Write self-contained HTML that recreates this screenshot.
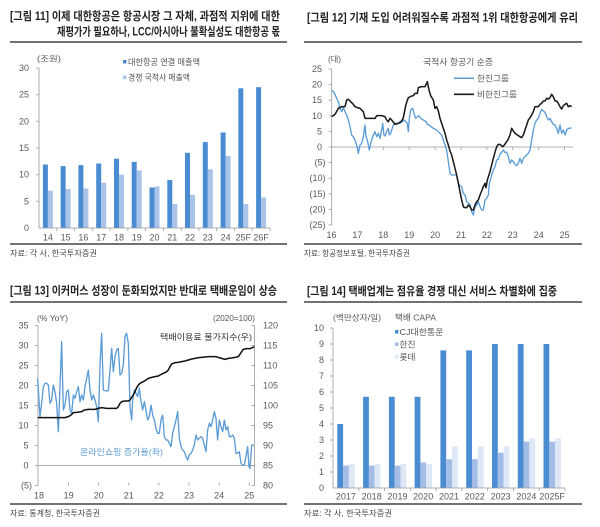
<!DOCTYPE html>
<html><head><meta charset="utf-8">
<style>
html,body{margin:0;padding:0;background:#fff;}
svg{display:block;font-family:"Liberation Sans","Noto Sans CJK KR",sans-serif;}
</style></head><body>
<svg width="600" height="527" viewBox="0 0 600 527" xmlns="http://www.w3.org/2000/svg">
<rect width="600" height="527" fill="#fff"/>

<!-- ================= CHART 11 ================= -->
<text x="10" y="20" font-size="11.5" font-weight="bold" fill="#222" textLength="270" lengthAdjust="spacingAndGlyphs">[그림 11] 이제 대한항공은 항공시장 그 자체, 과점적 지위에 대한</text>
<text x="57" y="35.5" font-size="11.5" font-weight="bold" fill="#222" textLength="223" lengthAdjust="spacingAndGlyphs">재평가가 필요하나, LCC/아시아나 불확실성도 대한항공 몫</text>
<line x1="10" y1="42" x2="287" y2="42" stroke="#444" stroke-width="1.4"/>
<line x1="10" y1="244" x2="287" y2="244" stroke="#444" stroke-width="1.4"/>
<text x="10" y="256" font-size="8" fill="#444" textLength="87" lengthAdjust="spacingAndGlyphs">자료: 각 사, 한국투자증권</text>

<text x="37" y="61.5" font-size="8" fill="#555" textLength="24" lengthAdjust="spacingAndGlyphs">(조원)</text>
<rect x="123" y="60" width="3.5" height="3.5" fill="#4A8CD2"/>
<text x="128" y="65" font-size="8.5" fill="#555" textLength="72" lengthAdjust="spacingAndGlyphs">대한항공 연결 매출액</text>
<rect x="123" y="75.5" width="3.5" height="3.5" fill="#A9C3E9"/>
<text x="128" y="80.5" font-size="8.5" fill="#555" textLength="62" lengthAdjust="spacingAndGlyphs">경쟁 국적사 매출액</text>

<g font-size="9" fill="#595959" text-anchor="end">
<text x="29" y="71">30</text><text x="29" y="97.7">25</text><text x="29" y="124.3">20</text>
<text x="29" y="151">15</text><text x="29" y="177.7">10</text><text x="29" y="204.3">5</text><text x="29" y="231">0</text>
</g>
<g stroke="#999" stroke-width="0.8">
<line x1="39" y1="68" x2="39" y2="228"/>
<line x1="36" y1="68" x2="39" y2="68"/><line x1="36" y1="94.7" x2="39" y2="94.7"/><line x1="36" y1="121.3" x2="39" y2="121.3"/>
<line x1="36" y1="148" x2="39" y2="148"/><line x1="36" y1="174.7" x2="39" y2="174.7"/><line x1="36" y1="201.3" x2="39" y2="201.3"/>
</g>
<!-- bars -->
<g fill="#4A8CD2">
<rect x="42.9" y="164.5" width="5" height="63.5"/>
<rect x="60.65" y="166.1" width="5" height="61.9"/>
<rect x="78.4" y="165.1" width="5" height="62.9"/>
<rect x="96.2" y="163.5" width="5" height="64.5"/>
<rect x="114" y="158.7" width="5" height="69.3"/>
<rect x="131.7" y="161.9" width="5" height="66.1"/>
<rect x="149.5" y="187.5" width="5" height="40.5"/>
<rect x="167.3" y="180" width="5" height="48"/>
<rect x="185" y="152.8" width="5" height="75.2"/>
<rect x="202.8" y="142.1" width="5" height="85.9"/>
<rect x="220.6" y="132.5" width="5" height="95.5"/>
<rect x="238.3" y="88.3" width="5" height="139.7"/>
<rect x="256.1" y="87.2" width="5" height="140.8"/>
</g>
<g fill="#A9C3E9">
<rect x="47.9" y="190.7" width="5" height="37.3"/>
<rect x="65.65" y="189.1" width="5" height="38.9"/>
<rect x="83.4" y="188.5" width="5" height="39.5"/>
<rect x="101.2" y="182.7" width="5" height="45.3"/>
<rect x="119" y="174.7" width="5" height="53.3"/>
<rect x="136.7" y="170.4" width="5" height="57.6"/>
<rect x="154.5" y="186.4" width="5" height="41.6"/>
<rect x="172.3" y="204" width="5" height="24"/>
<rect x="190" y="194.9" width="5" height="33.1"/>
<rect x="207.8" y="169.3" width="5" height="58.7"/>
<rect x="225.6" y="156" width="5" height="72"/>
<rect x="243.3" y="204" width="5" height="24"/>
<rect x="261.1" y="197.6" width="5" height="30.4"/>
</g>
<g stroke="#999" stroke-width="0.8">
<line x1="39" y1="228" x2="270" y2="228"/>
<line x1="56.8" y1="228" x2="56.8" y2="231"/><line x1="74.5" y1="228" x2="74.5" y2="231"/><line x1="92.3" y1="228" x2="92.3" y2="231"/>
<line x1="110.1" y1="228" x2="110.1" y2="231"/><line x1="127.9" y1="228" x2="127.9" y2="231"/><line x1="145.6" y1="228" x2="145.6" y2="231"/>
<line x1="163.4" y1="228" x2="163.4" y2="231"/><line x1="181.2" y1="228" x2="181.2" y2="231"/><line x1="198.9" y1="228" x2="198.9" y2="231"/>
<line x1="216.7" y1="228" x2="216.7" y2="231"/><line x1="234.5" y1="228" x2="234.5" y2="231"/><line x1="252.2" y1="228" x2="252.2" y2="231"/>
<line x1="270" y1="228" x2="270" y2="231"/>
</g>
<g font-size="9" fill="#595959" text-anchor="middle">
<text x="47.9" y="240.5">14</text><text x="65.65" y="240.5">15</text><text x="83.4" y="240.5">16</text><text x="101.2" y="240.5">17</text>
<text x="119" y="240.5">18</text><text x="136.7" y="240.5">19</text><text x="154.5" y="240.5">20</text><text x="172.3" y="240.5">21</text>
<text x="190" y="240.5">22</text><text x="207.8" y="240.5">23</text><text x="225.6" y="240.5">24</text><text x="243.3" y="240.5">25F</text>
<text x="261.1" y="240.5">26F</text>
</g>

<!-- ================= CHART 12 ================= -->
<text x="307" y="21.5" font-size="11.5" font-weight="bold" fill="#222" textLength="271" lengthAdjust="spacingAndGlyphs">[그림 12] 기재 도입 어려워질수록 과점적 1위 대한항공에게 유리</text>
<line x1="304" y1="42" x2="582" y2="42" stroke="#444" stroke-width="1.4"/>
<line x1="304" y1="244" x2="582" y2="244" stroke="#444" stroke-width="1.4"/>
<text x="304" y="256" font-size="8" fill="#444" textLength="106" lengthAdjust="spacingAndGlyphs">자료: 항공정보포털, 한국투자증권</text>

<text x="328" y="62" font-size="8" fill="#555" textLength="13" lengthAdjust="spacingAndGlyphs">(대)</text>
<text x="458" y="65" font-size="8.5" fill="#555" text-anchor="middle" textLength="70" lengthAdjust="spacingAndGlyphs">국적사 항공기 순증</text>
<line x1="454" y1="78.3" x2="474" y2="78.3" stroke="#5B9BD5" stroke-width="1.5"/>
<text x="477" y="81.5" font-size="8.5" fill="#555" textLength="32" lengthAdjust="spacingAndGlyphs">한진그룹</text>
<line x1="454" y1="94.3" x2="474" y2="94.3" stroke="#1a1a1a" stroke-width="1.6"/>
<text x="477" y="97.5" font-size="8.5" fill="#555" textLength="40" lengthAdjust="spacingAndGlyphs">비한진그룹</text>

<g font-size="9" fill="#595959" text-anchor="end">
<text x="322" y="72">25</text><text x="322" y="87.6">20</text><text x="322" y="103.2">15</text><text x="322" y="118.8">10</text>
<text x="322" y="134.4">5</text><text x="322" y="150">0</text>
<text x="325.5" y="165.6">(5)</text><text x="325.5" y="181.2">(10)</text><text x="325.5" y="196.8">(15)</text>
<text x="325.5" y="212.4">(20)</text><text x="325.5" y="228">(25)</text>
</g>
<g stroke="#999" stroke-width="0.8">
<line x1="331.7" y1="69" x2="331.7" y2="225"/>
<line x1="328.7" y1="69" x2="331.7" y2="69"/><line x1="328.7" y1="84.6" x2="331.7" y2="84.6"/><line x1="328.7" y1="100.2" x2="331.7" y2="100.2"/>
<line x1="328.7" y1="115.8" x2="331.7" y2="115.8"/><line x1="328.7" y1="131.4" x2="331.7" y2="131.4"/><line x1="328.7" y1="147" x2="331.7" y2="147"/>
<line x1="328.7" y1="162.6" x2="331.7" y2="162.6"/><line x1="328.7" y1="178.2" x2="331.7" y2="178.2"/><line x1="328.7" y1="193.8" x2="331.7" y2="193.8"/>
<line x1="328.7" y1="209.4" x2="331.7" y2="209.4"/><line x1="328.7" y1="225" x2="331.7" y2="225"/>
<line x1="331.7" y1="147" x2="573" y2="147"/>
<line x1="357.4" y1="147" x2="357.4" y2="150"/><line x1="383.3" y1="147" x2="383.3" y2="150"/><line x1="409.2" y1="147" x2="409.2" y2="150"/>
<line x1="435.1" y1="147" x2="435.1" y2="150"/><line x1="461" y1="147" x2="461" y2="150"/><line x1="486.9" y1="147" x2="486.9" y2="150"/>
<line x1="512.8" y1="147" x2="512.8" y2="150"/><line x1="538.7" y1="147" x2="538.7" y2="150"/><line x1="564.6" y1="147" x2="564.6" y2="150"/>
</g>
<g font-size="9" fill="#595959" text-anchor="middle">
<text x="331.5" y="238">16</text><text x="357.4" y="238">17</text><text x="383.3" y="238">18</text><text x="409.2" y="238">19</text>
<text x="435.1" y="238">20</text><text x="461" y="238">21</text><text x="486.9" y="238">22</text><text x="512.8" y="238">23</text>
<text x="538.7" y="238">24</text><text x="564.6" y="238">25</text>
</g>
<g transform="translate(330,65) scale(0.33333)" fill="none" stroke-linejoin="round">
<polyline stroke="#5B9BD5" stroke-width="4" points="5,75 12,82 20,100 25,110 30,130 35,140 40,128 45,140 50,150 55,165 60,185 65,210 70,215 75,225 80,240 85,265 90,240 95,235 100,215 105,180 108,215 112,225 118,255 122,235 125,225 130,210 135,200 140,215 145,205 150,220 155,195 158,175 162,210 165,213 170,200 175,190 178,210 182,205 185,195 190,180 195,175 200,175 210,175 215,172 222,165 228,170 232,175 235,200 238,160 242,135 248,130 252,145 257,160 262,155 267,152 272,160 280,165 288,170 292,178 298,180 303,185 310,190 320,195 325,200 330,205 335,210 340,225 345,240 350,255 355,290 360,325 365,330 370,330 375,330 380,330 385,355 390,362 395,365 400,385 405,390 410,410 415,415 420,418 425,440 430,450 435,425 440,420 445,410 450,425 455,435 460,435 465,405 470,400 475,390 478,355 485,330 490,315 495,305 500,285 505,283 510,268 515,262 520,255 525,262 530,262 535,275 540,295 545,285 550,290 555,298 560,302 565,295 570,280 575,295 580,280 585,275 590,270 595,265 600,255 605,225 610,195 615,175 620,165 625,160 630,145 635,133 640,138 645,142 650,155 655,165 660,160 665,170 670,178 675,180 680,190 685,205 690,180 695,205 700,195 705,210 710,195 715,190 720,190 725,188"/>
<polyline stroke="#1a1a1a" stroke-width="4.6" points="5,155 15,148 25,130 35,125 45,125 50,105 55,103 62,110 70,118 75,125 80,127 90,130 100,140 105,160 120,160 135,160 140,152 155,152 165,155 170,165 175,170 180,160 185,165 195,178 205,175 215,168 220,158 228,118 235,98 245,93 250,92 255,85 262,85 265,68 275,65 285,65 292,50 297,75 302,92 310,105 315,130 320,125 325,138 330,160 335,175 340,190 345,205 350,225 355,240 360,258 365,270 370,290 375,310 380,330 385,355 390,380 395,405 400,425 405,428 410,428 415,420 420,425 425,435 430,435 435,420 440,410 445,405 450,390 455,378 460,365 465,355 468,368 472,345 480,320 485,300 490,280 495,262 500,245 505,238 510,238 518,245 523,240 530,230 535,222 540,210 545,190 550,198 555,205 565,212 575,218 580,210 585,195 590,180 595,165 600,158 605,150 610,140 615,125 625,125 630,118 635,115 640,108 645,108 650,100 655,102 660,98 665,88 670,95 675,108 680,108 685,115 690,125 695,132 700,122 705,118 710,115 715,125 720,122 725,125"/>
</g>

<!-- ================= CHART 13 ================= -->
<text x="10" y="294.5" font-size="11.5" font-weight="bold" fill="#222" textLength="267" lengthAdjust="spacingAndGlyphs">[그림 13] 이커머스 성장이 둔화되었지만 반대로 택배운임이 상승</text>
<line x1="10" y1="302" x2="287" y2="302" stroke="#444" stroke-width="1.4"/>
<line x1="10" y1="504" x2="287" y2="504" stroke="#444" stroke-width="1.4"/>
<text x="10" y="516" font-size="8" fill="#444" textLength="90" lengthAdjust="spacingAndGlyphs">자료: 통계청, 한국투자증권</text>

<text x="37" y="321" font-size="8" fill="#555" textLength="31" lengthAdjust="spacingAndGlyphs">(% YoY)</text>
<text x="255" y="321" font-size="8" fill="#555" text-anchor="end" textLength="42" lengthAdjust="spacingAndGlyphs">(2020=100)</text>
<text x="160" y="340" font-size="8.5" fill="#333" textLength="92" lengthAdjust="spacingAndGlyphs">택배이용료 물가지수(우)</text>
<text x="80" y="455" font-size="8.5" fill="#5B9BD5" textLength="83" lengthAdjust="spacingAndGlyphs">온라인쇼핑 증가율(좌)</text>

<g font-size="9" fill="#595959" text-anchor="end">
<text x="28.5" y="328.5">35</text><text x="28.5" y="348.5">30</text><text x="28.5" y="368.5">25</text><text x="28.5" y="388.5">20</text>
<text x="28.5" y="408.5">15</text><text x="28.5" y="428.5">10</text><text x="28.5" y="448.5">5</text><text x="28.5" y="468.5">0</text>
<text x="32" y="488.5">(5)</text>
</g>
<g font-size="9" fill="#595959">
<text x="263" y="328.5">120</text><text x="263" y="348.5">115</text><text x="263" y="368.5">110</text><text x="263" y="388.5">105</text>
<text x="263" y="408.5">100</text><text x="263" y="428.5">95</text><text x="263" y="448.5">90</text><text x="263" y="468.5">85</text>
<text x="263" y="488.5">80</text>
</g>
<g stroke="#999" stroke-width="0.8">
<line x1="38" y1="325.5" x2="38" y2="485.5"/>
<line x1="254.5" y1="325.5" x2="254.5" y2="485.5"/>
<line x1="35" y1="325.5" x2="38" y2="325.5"/><line x1="35" y1="345.5" x2="38" y2="345.5"/><line x1="35" y1="365.5" x2="38" y2="365.5"/>
<line x1="35" y1="385.5" x2="38" y2="385.5"/><line x1="35" y1="405.5" x2="38" y2="405.5"/><line x1="35" y1="425.5" x2="38" y2="425.5"/>
<line x1="35" y1="445.5" x2="38" y2="445.5"/><line x1="35" y1="465.5" x2="38" y2="465.5"/><line x1="35" y1="485.5" x2="38" y2="485.5"/>
<line x1="251.5" y1="325.5" x2="254.5" y2="325.5"/><line x1="251.5" y1="345.5" x2="254.5" y2="345.5"/><line x1="251.5" y1="365.5" x2="254.5" y2="365.5"/>
<line x1="251.5" y1="385.5" x2="254.5" y2="385.5"/><line x1="251.5" y1="405.5" x2="254.5" y2="405.5"/><line x1="251.5" y1="425.5" x2="254.5" y2="425.5"/>
<line x1="251.5" y1="445.5" x2="254.5" y2="445.5"/><line x1="251.5" y1="465.5" x2="254.5" y2="465.5"/><line x1="251.5" y1="485.5" x2="254.5" y2="485.5"/>
<line x1="38" y1="465.5" x2="254.5" y2="465.5"/>
<line x1="68.6" y1="482.5" x2="68.6" y2="485.5"/><line x1="98.7" y1="482.5" x2="98.7" y2="485.5"/><line x1="128.8" y1="482.5" x2="128.8" y2="485.5"/>
<line x1="158.9" y1="482.5" x2="158.9" y2="485.5"/><line x1="189" y1="482.5" x2="189" y2="485.5"/><line x1="219.1" y1="482.5" x2="219.1" y2="485.5"/>
<line x1="249.2" y1="482.5" x2="249.2" y2="485.5"/>
</g>
<g font-size="9" fill="#595959" text-anchor="middle">
<text x="39" y="498.5">18</text><text x="68.6" y="498.5">19</text><text x="98.7" y="498.5">20</text><text x="128.8" y="498.5">21</text>
<text x="158.9" y="498.5">22</text><text x="189" y="498.5">23</text><text x="219.1" y="498.5">24</text><text x="249.2" y="498.5">25</text>
</g>
<g transform="translate(35,320) scale(0.33333)" fill="none" stroke-linejoin="round">
<polyline stroke="#5B9BD5" stroke-width="4" points="8,175 15,290 20,250 25,200 30,190 35,190 40,195 45,250 50,240 55,195 60,215 65,250 70,335 75,200 80,65 85,270 90,255 95,215 100,210 105,270 110,280 115,225 120,235 125,215 130,200 135,245 140,225 145,240 150,200 155,175 160,150 165,210 170,240 175,225 180,240 185,260 190,305 195,135 200,40 205,210 210,212 215,213 220,212 225,150 230,85 235,155 240,110 245,90 250,85 255,165 260,160 265,135 270,50 275,40 280,70 285,260 290,300 293,240 298,210 303,220 308,230 313,205 318,245 323,270 328,245 333,270 338,300 343,290 348,255 353,285 358,300 363,325 368,340 373,340 378,300 383,285 388,350 393,360 398,360 403,370 408,380 413,340 418,320 423,300 428,275 433,355 438,380 443,390 448,395 453,410 458,420 463,405 468,400 473,390 478,375 483,345 488,360 493,355 498,350 503,355 508,375 513,395 518,330 523,310 528,320 533,300 538,275 543,295 548,360 553,300 558,320 563,335 568,300 573,330 578,320 583,350 588,350 593,345 598,355 603,400 608,400 613,395 618,430 623,435 628,435 633,410 638,380 642,440 645,445 650,375 655,375"/>
<polyline stroke="#111" stroke-width="4.6" points="8,293 30,293 60,293 90,293 100,290 108,285 115,278 125,277 140,275 148,270 160,268 180,268 190,265 200,263 215,265 230,265 245,265 250,260 255,250 260,245 270,243 280,243 285,240 290,232 295,225 300,215 305,203 310,195 315,190 325,185 333,180 340,175 350,172 360,170 370,168 375,165 385,160 395,155 400,150 405,140 410,132 420,128 430,127 440,125 450,123 460,120 470,117 480,115 490,113 500,112 520,110 540,110 550,112 560,115 570,118 580,115 590,114 600,112 610,110 620,95 625,88 635,86 645,86 650,84 658,80"/>
</g>

<!-- ================= CHART 14 ================= -->
<text x="307" y="295" font-size="11.5" font-weight="bold" fill="#222" textLength="250" lengthAdjust="spacingAndGlyphs">[그림 14] 택배업계는 점유율 경쟁 대신 서비스 차별화에 집중</text>
<line x1="304" y1="302" x2="582" y2="302" stroke="#444" stroke-width="1.4"/>
<line x1="304" y1="504" x2="582" y2="504" stroke="#444" stroke-width="1.4"/>
<text x="304" y="516" font-size="8" fill="#444" textLength="88" lengthAdjust="spacingAndGlyphs">자료: 각 사, 한국투자증권</text>

<text x="333" y="320.5" font-size="8" fill="#555" textLength="48" lengthAdjust="spacingAndGlyphs">(백만상자/일)</text>
<text x="395" y="320.5" font-size="8.5" fill="#555" textLength="41" lengthAdjust="spacingAndGlyphs">택배 CAPA</text>
<rect x="395" y="330" width="3.5" height="3.5" fill="#4A8CD2"/>
<text x="399.5" y="334.8" font-size="8.5" fill="#555" textLength="44" lengthAdjust="spacingAndGlyphs">CJ대한통운</text>
<rect x="395" y="342.5" width="3.5" height="3.5" fill="#A4BDE6"/>
<text x="399.5" y="347.3" font-size="8.5" fill="#555" textLength="16" lengthAdjust="spacingAndGlyphs">한진</text>
<rect x="395" y="355" width="3.5" height="3.5" fill="#DDE7F6"/>
<text x="399.5" y="359.8" font-size="8.5" fill="#555" textLength="16" lengthAdjust="spacingAndGlyphs">롯데</text>

<g font-size="9" fill="#595959" text-anchor="end">
<text x="324" y="331">10</text><text x="324" y="347">9</text><text x="324" y="363">8</text><text x="324" y="379">7</text>
<text x="324" y="395">6</text><text x="324" y="411">5</text><text x="324" y="427">4</text><text x="324" y="443">3</text>
<text x="324" y="459">2</text><text x="324" y="475">1</text><text x="324" y="491">0</text>
</g>
<g stroke="#999" stroke-width="0.8">
<line x1="333" y1="328" x2="333" y2="488"/>
<line x1="330" y1="328" x2="333" y2="328"/><line x1="330" y1="344" x2="333" y2="344"/><line x1="330" y1="360" x2="333" y2="360"/>
<line x1="330" y1="376" x2="333" y2="376"/><line x1="330" y1="392" x2="333" y2="392"/><line x1="330" y1="408" x2="333" y2="408"/>
<line x1="330" y1="424" x2="333" y2="424"/><line x1="330" y1="440" x2="333" y2="440"/><line x1="330" y1="456" x2="333" y2="456"/>
<line x1="330" y1="472" x2="333" y2="472"/>
</g>
<!-- bars: centers 345.9 + 25.78*i -->
<g fill="#4A8CD2">
<rect x="337.3" y="424" width="5.8" height="64"/>
<rect x="363.1" y="396.8" width="5.8" height="91.2"/>
<rect x="388.9" y="396.8" width="5.8" height="91.2"/>
<rect x="414.6" y="396.8" width="5.8" height="91.2"/>
<rect x="440.4" y="350.4" width="5.8" height="137.6"/>
<rect x="466.2" y="350.4" width="5.8" height="137.6"/>
<rect x="492" y="344" width="5.8" height="144"/>
<rect x="517.8" y="344" width="5.8" height="144"/>
<rect x="543.5" y="344" width="5.8" height="144"/>
</g>
<g fill="#A4BDE6">
<rect x="343.1" y="465.6" width="5.8" height="22.4"/>
<rect x="368.9" y="465.6" width="5.8" height="22.4"/>
<rect x="394.7" y="465.6" width="5.8" height="22.4"/>
<rect x="420.4" y="462.4" width="5.8" height="25.6"/>
<rect x="446.2" y="459.2" width="5.8" height="28.8"/>
<rect x="472" y="459.2" width="5.8" height="28.8"/>
<rect x="497.8" y="452.8" width="5.8" height="35.2"/>
<rect x="523.6" y="441.6" width="5.8" height="46.4"/>
<rect x="549.3" y="441.6" width="5.8" height="46.4"/>
</g>
<g fill="#DDE7F6">
<rect x="348.9" y="464" width="5.8" height="24"/>
<rect x="374.7" y="464" width="5.8" height="24"/>
<rect x="400.5" y="464" width="5.8" height="24"/>
<rect x="426.2" y="464" width="5.8" height="24"/>
<rect x="452" y="446.4" width="5.8" height="41.6"/>
<rect x="477.8" y="446.4" width="5.8" height="41.6"/>
<rect x="503.6" y="446.4" width="5.8" height="41.6"/>
<rect x="529.4" y="438.4" width="5.8" height="49.6"/>
<rect x="555.1" y="438.4" width="5.8" height="49.6"/>
</g>
<g stroke="#999" stroke-width="0.8">
<line x1="333" y1="488" x2="565" y2="488"/>
<line x1="358.8" y1="488" x2="358.8" y2="491"/><line x1="384.6" y1="488" x2="384.6" y2="491"/><line x1="410.3" y1="488" x2="410.3" y2="491"/>
<line x1="436.1" y1="488" x2="436.1" y2="491"/><line x1="461.9" y1="488" x2="461.9" y2="491"/><line x1="487.7" y1="488" x2="487.7" y2="491"/>
<line x1="513.5" y1="488" x2="513.5" y2="491"/><line x1="539.2" y1="488" x2="539.2" y2="491"/><line x1="565" y1="488" x2="565" y2="491"/>
</g>
<g font-size="9" fill="#595959" text-anchor="middle">
<text x="345.9" y="499.5">2017</text><text x="371.7" y="499.5">2018</text><text x="397.5" y="499.5">2019</text>
<text x="423.2" y="499.5">2020</text><text x="449" y="499.5">2021</text><text x="474.8" y="499.5">2022</text>
<text x="500.6" y="499.5">2023</text><text x="526.4" y="499.5">2024</text><text x="552.1" y="499.5">2025F</text>
</g>
</svg>
</body></html>
